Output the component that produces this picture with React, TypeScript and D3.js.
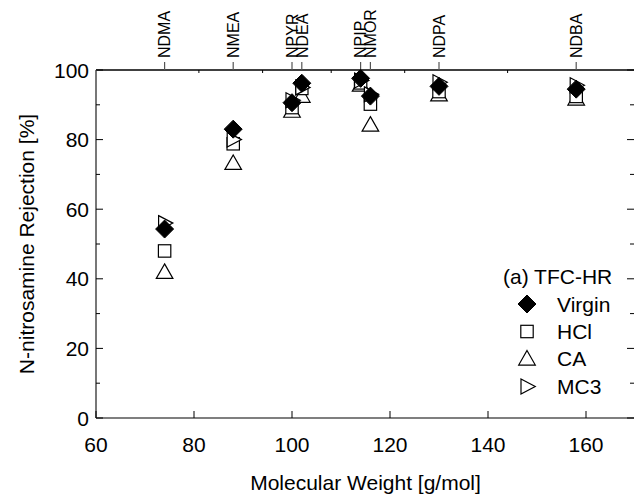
import React from "react";
import * as d3 from "d3";

const compounds = ["NDMA", "NMEA", "NPYR", "NDEA", "NPIP", "NMOR", "NDPA", "NDBA"];
const molWeights = [74, 88, 100, 102, 114, 116, 130, 158];
const virgin = [54.3, 83, 90.6, 96.2, 97.6, 92.5, 95.3, 94.5];
const hcl = [48, 78.8, 89.2, 94.7, 96.3, 90.2, 93.8, 92.4];
const ca = [42, 73.3, 88.3, 92.6, 95.8, 84.3, 93, 91.8];
const mc3 = [56, 80, 91.3, 95, 97, 93, 96.5, 95.6];
const xTicks = [60, 80, 100, 120, 140, 160];
const yTicks = [0, 20, 40, 60, 80, 100];
const yMinor = [10, 30, 50, 70, 90];
const topMinor = [81, 94, 108, 123, 144];
const seriesNames = ["Virgin", "HCl", "CA", "MC3"];

const W = 634, H = 502;
const L = 96, R = 635, T = 70, B = 418;
const FONT = "Liberation Sans, Arial, Helvetica, sans-serif";

function Marker({ kind, x, y }: { kind: string; x: number; y: number }) {
  if (kind === "Virgin") {
    const s = 9;
    return <path d={`M${x},${y - s}L${x + s},${y}L${x},${y + s}L${x - s},${y}Z`} fill="#000" stroke="#000" strokeWidth={1} />;
  }
  if (kind === "HCl") {
    const s = 6.2;
    return <rect x={x - s} y={y - s} width={2 * s} height={2 * s} fill="#fff" stroke="#000" strokeWidth={1.2} />;
  }
  if (kind === "CA") {
    const w = 8.3, h = 14.5;
    return <path d={`M${x},${y - h * 0.55}L${x + w},${y + h * 0.45}L${x - w},${y + h * 0.45}Z`} fill="#fff" stroke="#000" strokeWidth={1.2} />;
  }
  const s = 7.5;
  return <path d={`M${x - s * 0.8},${y - s}L${x + s * 1.1},${y}L${x - s * 0.8},${y + s}Z`} fill="#fff" stroke="#000" strokeWidth={1.2} />;
}

export default function App() {
  const x = d3.scaleLinear().domain([60, 170]).range([L, R]);
  const y = d3.scaleLinear().domain([0, 100]).range([B, T]);
  const series: [string, number[]][] = [
    ["CA", ca],
    ["HCl", hcl],
    ["MC3", mc3],
    ["Virgin", virgin],
  ];
  const legendY = [304, 331.5, 358.5, 386.5];
  return (
    <svg width={W} height={H} style={{ position: "absolute", left: 0, top: 0 }} fontFamily={FONT}>
      <rect width={W} height={H} fill="#fff" />
      {/* axes lines */}
      <line x1={L} x2={R} y1={T} y2={T} stroke="#000" strokeWidth={1.3} />
      <line x1={L} x2={R} y1={B} y2={B} stroke="#555" strokeWidth={1.6} />
      <line x1={L} x2={L} y1={T} y2={B} stroke="#555" strokeWidth={1.6} />
      {/* bottom ticks */}
      {xTicks.map((t) => (
        <g key={"xt" + t}>
          <line x1={x(t)} x2={x(t)} y1={B} y2={B - 7} stroke="#000" strokeWidth={1} />
          <text x={x(t)} y={452} fontSize={21} textAnchor="middle" fill="#000">{t}</text>
        </g>
      ))}
      {/* left/right ticks */}
      {yTicks.map((t) => (
        <g key={"yt" + t}>
          <line x1={L} x2={L + 7} y1={y(t)} y2={y(t)} stroke="#000" strokeWidth={1} />
          <line x1={R - 8} x2={R} y1={y(t)} y2={y(t)} stroke="#000" strokeWidth={1} />
          <text x={89} y={y(t)} dy="0.36em" fontSize={21} textAnchor="end" fill="#000">{t}</text>
        </g>
      ))}
      {yMinor.map((t) => (
        <g key={"ym" + t}>
          <line x1={L} x2={L + 4} y1={y(t)} y2={y(t)} stroke="#000" strokeWidth={1} />
          <line x1={R - 5} x2={R} y1={y(t)} y2={y(t)} stroke="#000" strokeWidth={1} />
        </g>
      ))}
      {/* top axis */}
      {molWeights.map((m, i) => (
        <g key={"top" + i}>
          <line x1={x(m)} x2={x(m)} y1={T} y2={T - 8} stroke="#555" strokeWidth={1.2} />
          <text
            transform={`translate(${x(m)},${T - 12}) rotate(-90)`}
            dy="0.36em"
            fontSize={16}
            textAnchor="start"
            fill="#000"
          >
            {compounds[i]}
          </text>
        </g>
      ))}
      {topMinor.map((m) => (
        <line key={"tm" + m} x1={x(m)} x2={x(m)} y1={T} y2={T + 3} stroke="#000" strokeWidth={1} />
      ))}
      {/* data */}
      {series.map(([name, vals]) => (
        <g key={name}>
          {vals.map((v, i) => (
            <Marker key={i} kind={name} x={x(molWeights[i])} y={y(v)} />
          ))}
        </g>
      ))}
      {/* legend */}
      <text x={503} y={276.5} dy="0.36em" fontSize={21} fill="#000">(a) TFC-HR</text>
      {seriesNames.map((n, i) => (
        <g key={"lg" + n}>
          <Marker kind={n} x={527} y={legendY[i]} />
          <text x={557} y={legendY[i]} dy="0.36em" fontSize={21} fill="#000">{n}</text>
        </g>
      ))}
      {/* axis titles */}
      <text x={(L + R) / 2} y={490} fontSize={21} textAnchor="middle" fill="#000">Molecular Weight [g/mol]</text>
      <text
        transform={`translate(26,${(T + B) / 2}) rotate(-90)`}
        dy="0.36em"
        fontSize={21}
        textAnchor="middle"
        fill="#000"
      >
        N-nitrosamine Rejection [%]
      </text>
    </svg>
  );
}
